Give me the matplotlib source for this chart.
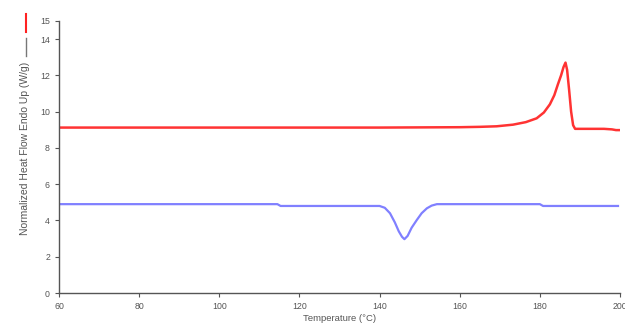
import matplotlib
matplotlib.use("Agg")
import matplotlib.pyplot as plt
from matplotlib.lines import Line2D

# red trace (upper)
red_temp = [60, 100, 140, 150, 160, 165, 169.2, 173.3, 176.5, 179.2, 181, 182.5,
            183.6, 184.5, 185.3, 185.9, 186.4, 186.8, 187.3, 187.8, 188.3, 188.8,
            192, 196, 198, 199, 200]
red_val = [9.12, 9.12, 9.12, 9.13, 9.14, 9.16, 9.19, 9.28, 9.42, 9.63, 9.95, 10.4,
           10.9, 11.5, 12.0, 12.45, 12.7, 12.3, 11.2, 10.0, 9.25, 9.05,
           9.05, 9.05, 9.02, 8.98, 8.98]

# blue trace (lower)
blue_temp = [60, 114.5, 115.3, 140, 141.3, 142.6, 143.8, 144.8, 145.6, 146.2, 147.0,
             148.0, 149.3, 150.5, 151.8, 153.0, 154.3, 180, 180.8, 199.5]
blue_val = [4.9, 4.9, 4.8, 4.8, 4.7, 4.4, 3.9, 3.4, 3.1, 2.97, 3.15,
            3.6, 4.03, 4.4, 4.67, 4.82, 4.9, 4.9, 4.8, 4.8]

xticks = [60, 80, 100, 120, 140, 160, 180, 200]
yticks = [0, 2, 4, 6, 8, 10, 12, 14, 15]

plt.rcParams['font.family'] = ['Liberation Sans', 'DejaVu Sans']
grey = '#555555'

fig = plt.figure(figsize=(6.25, 3.26), dpi=100)
ax = fig.add_axes([0.0944, 0.101, 0.8976, 0.835])
ax.plot(red_temp, red_val, color='#ff3333', lw=1.8, solid_joinstyle='round')
ax.plot(blue_temp, blue_val, color='#8080ff', lw=1.6, solid_joinstyle='round')

ax.set_xlim(60, 200)
ax.set_ylim(0, 15)
ax.set_xticks(xticks)
ax.set_yticks(yticks)
ax.tick_params(labelsize=6.3, colors=grey, length=3, width=0.8, direction='out')
for s in ['top', 'right']:
    ax.spines[s].set_visible(False)
for s in ['left', 'bottom']:
    ax.spines[s].set_color(grey)
    ax.spines[s].set_linewidth(1.0)

ax.set_xlabel('Temperature (°C)', fontsize=6.8, color=grey, labelpad=2)

# y label with legend-like line segments
fig.text(25 / 625, 1 - 148 / 326, 'Normalized Heat Flow Endo Up (W/g)', rotation=90,
         fontsize=7.5, color=grey, ha='center', va='center')
fig.add_artist(Line2D([26 / 625, 26 / 625], [1 - 38 / 326, 1 - 56 / 326],
                      color='#777777', lw=1.0, transform=fig.transFigure))
fig.add_artist(Line2D([26 / 625, 26 / 625], [1 - 14 / 326, 1 - 32 / 326],
                      color='#ff2222', lw=1.5, transform=fig.transFigure))

fig.savefig('out.png', dpi=100)
